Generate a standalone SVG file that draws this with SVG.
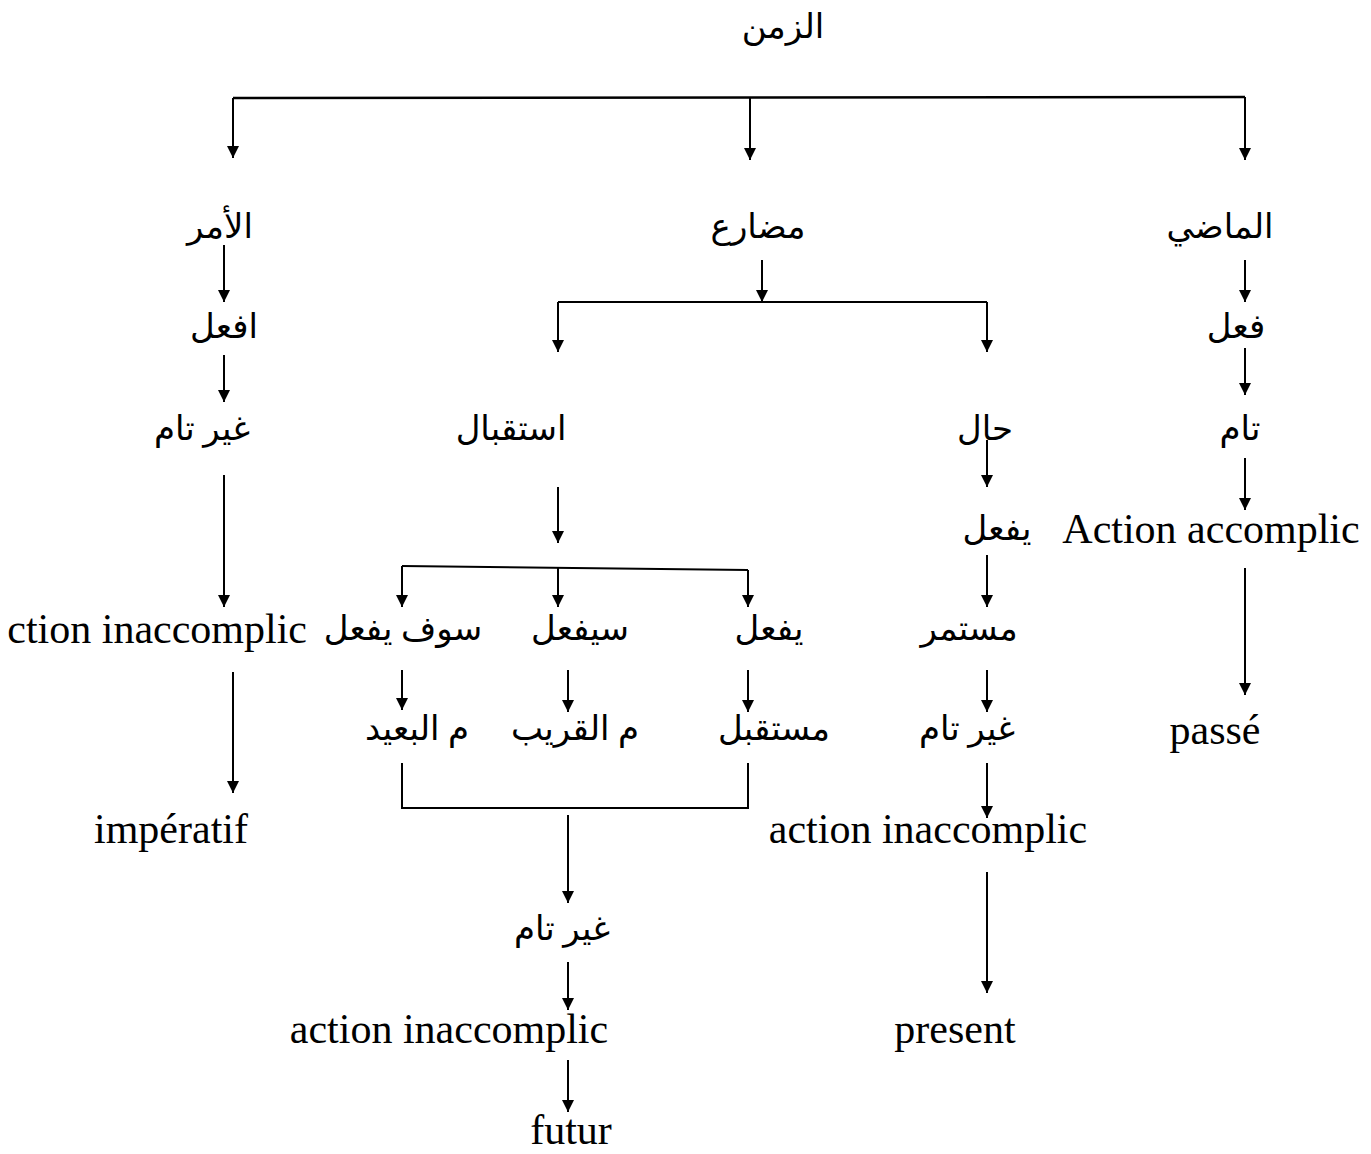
<svg xmlns="http://www.w3.org/2000/svg" width="1371" height="1154" viewBox="0 0 1371 1154">
<style>
.ar{font-family:"Liberation Serif","DejaVu Sans",serif;font-size:34px;fill:#000;text-anchor:middle}
.la{font-family:"Liberation Serif",serif;font-size:42px;fill:#000;text-anchor:middle}
.c line,.c polyline{stroke:#000;stroke-width:2;fill:none}
.a{marker-end:url(#ah)}
</style>
<defs>
<marker id="ah" markerUnits="userSpaceOnUse" markerWidth="12" markerHeight="14" refX="12" refY="6" orient="auto" viewBox="0 0 12 12">
<path d="M0,0 L12,6 L0,12 z" fill="#000"/>
</marker>
</defs>
<rect width="1371" height="1154" fill="#fff"/>
<g class="c" id="connectors">
<line x1="233" y1="98" x2="1245" y2="97" style="stroke-width:2.5"/>
<line class="a" x1="233" y1="98" x2="233" y2="158"/>
<line class="a" x1="750" y1="98" x2="750" y2="160"/>
<line class="a" x1="1245" y1="97" x2="1245" y2="160"/>
<line class="a" x1="224" y1="245" x2="224" y2="302"/>
<line class="a" x1="762" y1="260" x2="762" y2="302"/>
<line x1="558" y1="302" x2="987" y2="302"/>
<line class="a" x1="558" y1="302" x2="558" y2="352"/>
<line class="a" x1="987" y1="302" x2="987" y2="352"/>
<line class="a" x1="1245" y1="260" x2="1245" y2="302"/>
<line class="a" x1="224" y1="355" x2="224" y2="402"/>
<line class="a" x1="1245" y1="348" x2="1245" y2="395"/>
<line class="a" x1="987" y1="440" x2="987" y2="487"/>
<line class="a" x1="1245" y1="458" x2="1245" y2="510"/>
<line class="a" x1="558" y1="487" x2="558" y2="543"/>
<line class="a" x1="224" y1="475" x2="224" y2="607"/>
<line x1="402" y1="566" x2="748" y2="570"/>
<line class="a" x1="402" y1="566" x2="402" y2="607"/>
<line class="a" x1="558" y1="568" x2="558" y2="607"/>
<line class="a" x1="748" y1="570" x2="748" y2="607"/>
<line class="a" x1="987" y1="555" x2="987" y2="607"/>
<line class="a" x1="1245" y1="568" x2="1245" y2="695"/>
<line class="a" x1="233" y1="672" x2="233" y2="793"/>
<line class="a" x1="402" y1="670" x2="402" y2="710"/>
<line class="a" x1="568" y1="670" x2="568" y2="712"/>
<line class="a" x1="748" y1="670" x2="748" y2="712"/>
<line class="a" x1="987" y1="670" x2="987" y2="712"/>
<polyline points="402,763 402,808 748,808 748,763"/>
<line class="a" x1="568" y1="815" x2="568" y2="903"/>
<line class="a" x1="987" y1="763" x2="987" y2="818"/>
<line class="a" x1="987" y1="872" x2="987" y2="993"/>
<line class="a" x1="568" y1="962" x2="568" y2="1010"/>
<line class="a" x1="568" y1="1060" x2="568" y2="1112"/>
</g>
<g id="n-zaman"><text class="ar" x="783" y="38">الزمن</text></g>
<g id="n-amr"><text class="ar" x="220" y="238">الأمر</text></g>
<g id="n-mudari"><text class="ar" x="758" y="238">مضارع</text></g>
<g id="n-madi"><text class="ar" x="1220" y="238">الماضي</text></g>
<g id="n-ifal"><text class="ar" x="224" y="338">افعل</text></g>
<g id="n-fal"><text class="ar" x="1236" y="338">فعل</text></g>
<g id="n-ghayr1"><text class="ar" x="202" y="440">غير تام</text></g>
<g id="n-istiqbal"><text class="ar" x="511" y="440">استقبال</text></g>
<g id="n-hal"><text class="ar" x="985" y="440">حال</text></g>
<g id="n-tam"><text class="ar" x="1240" y="440">تام</text></g>
<g id="n-yafal1"><text class="ar" x="997" y="540">يفعل</text></g>
<g id="n-accomplic"><text class="la" x="1211" y="543">Action accomplic</text></g>
<g id="n-inacc1"><text class="la" x="307" y="643" style="text-anchor:end">ction inaccomplic</text></g>
<g id="n-sawfa"><text class="ar" x="403" y="640">سوف يفعل</text></g>
<g id="n-sayafal"><text class="ar" x="580" y="640">سيفعل</text></g>
<g id="n-yafal2"><text class="ar" x="769" y="640">يفعل</text></g>
<g id="n-mustamir"><text class="ar" x="969" y="640">مستمر</text></g>
<g id="n-baid"><text class="ar" x="417" y="740">م البعيد</text></g>
<g id="n-qarib"><text class="ar" x="575" y="740">م القريب</text></g>
<g id="n-mustaqbal"><text class="ar" x="774" y="740">مستقبل</text></g>
<g id="n-ghayr2"><text class="ar" x="967" y="740">غير تام</text></g>
<g id="n-passe"><text class="la" x="1215" y="744">passé</text></g>
<g id="n-imperatif"><text class="la" x="171" y="843">impératif</text></g>
<g id="n-inacc2"><text class="la" x="928" y="843">action inaccomplic</text></g>
<g id="n-ghayr3"><text class="ar" x="562" y="940">غير تام</text></g>
<g id="n-inacc3"><text class="la" x="449" y="1043">action inaccomplic</text></g>
<g id="n-present"><text class="la" x="955" y="1043">present</text></g>
<g id="n-futur"><text class="la" x="571" y="1144">futur</text></g>
</svg>
